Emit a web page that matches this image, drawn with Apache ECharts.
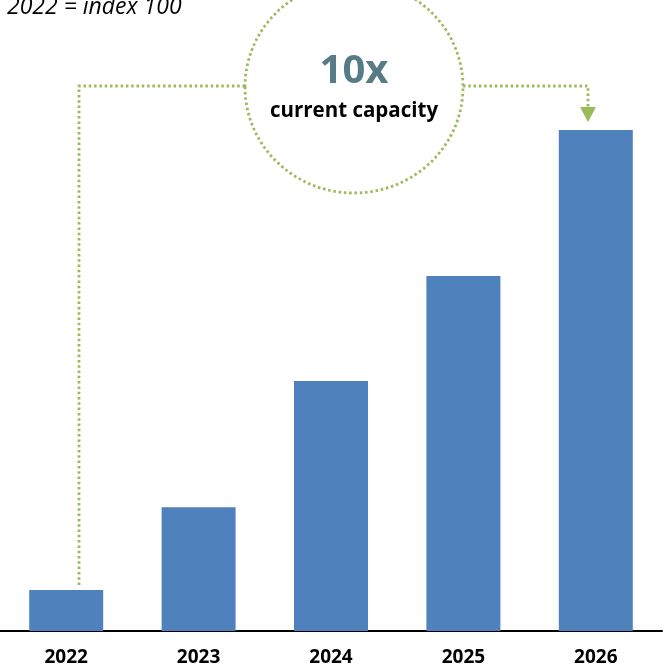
<!DOCTYPE html>
<html>
<head>
<meta charset="utf-8">
<script src="https://cdn.jsdelivr.net/npm/echarts@6/dist/echarts.min.js"></script>
<style>
  html, body { margin: 0; padding: 0; background: #fff; }
  #chart { width: 666px; height: 671px; }
</style>
</head>
<body>
<div id="chart"></div>
<script>
const years = ["2022", "2023", "2024", "2025", "2026"];
const capacityIndex = [100, 302, 610, 866, 1222];
const noteText = "2022 = index 100";
const bigText = "10x";
const subText = "current capacity";

const chart = echarts.init(document.getElementById("chart"));
const font = "'Open Sans', 'Noto Sans', sans-serif";
const green = "#9bbb59";

chart.setOption({
  animation: false,
  grid: { left: 0, right: 4, top: 16, bottom: 40 },
  xAxis: {
    type: "category",
    data: years,
    axisTick: { show: false },
    axisLine: { lineStyle: { color: "#000", width: 2 } },
    axisLabel: {
      color: "#000",
      fontSize: 19,
      fontWeight: "bold",
      fontFamily: font,
      margin: 17
    }
  },
  yAxis: {
    type: "value",
    min: 0,
    max: 1500,
    show: false,
    splitLine: { show: false }
  },
  series: [
    {
      type: "bar",
      data: capacityIndex,
      barWidth: 74,
      itemStyle: { color: "#4f81bd" }
    }
  ]
});

// annotation anchored to first and last bars
const p0 = chart.convertToPixel({ seriesIndex: 0 }, [0, capacityIndex[0]]);
const pN = chart.convertToPixel({ seriesIndex: 0 }, [years.length - 1, capacityIndex[years.length - 1]]);
const cx = 354, cy = 87, rx = 109, ry = 106;
const lineY = 86;
const dot = { stroke: green, lineWidth: 2.8, lineDash: [2.5, 2.8], fill: null };
const leftX = Math.round(p0[0] + 13);
const rightX = Math.round(pN[0] - 8);

chart.setOption({
  graphic: [
    {
      type: "text",
      x: 7,
      y: 7,
      style: {
        text: noteText,
        fontSize: 23,
        fontStyle: "italic",
        fontFamily: font,
        fill: "#000",
        verticalAlign: "middle"
      }
    },
    {
      type: "polyline",
      shape: { points: [[leftX, p0[1] - 5], [leftX, lineY], [cx - rx, lineY]] },
      style: dot
    },
    {
      type: "polyline",
      shape: { points: [[cx + rx, lineY], [rightX, lineY], [rightX, 107]] },
      style: dot
    },
    {
      type: "polygon",
      shape: { points: [[rightX - 8, 107], [rightX + 8, 107], [rightX, 122]] },
      style: { fill: green }
    },
    {
      type: "ellipse",
      shape: { cx: cx, cy: cy, rx: rx, ry: ry },
      style: dot
    },
    {
      type: "text",
      x: cx,
      y: 72,
      style: {
        text: bigText,
        fontSize: 40,
        fontWeight: "bold",
        fontFamily: font,
        fill: "#587b88",
        align: "center",
        verticalAlign: "middle"
      }
    },
    {
      type: "text",
      x: cx,
      y: 111,
      style: {
        text: subText,
        fontSize: 20.5,
        fontWeight: "bold",
        fontFamily: font,
        fill: "#000",
        align: "center",
        verticalAlign: "middle"
      }
    }
  ]
});
</script>
</body>
</html>
